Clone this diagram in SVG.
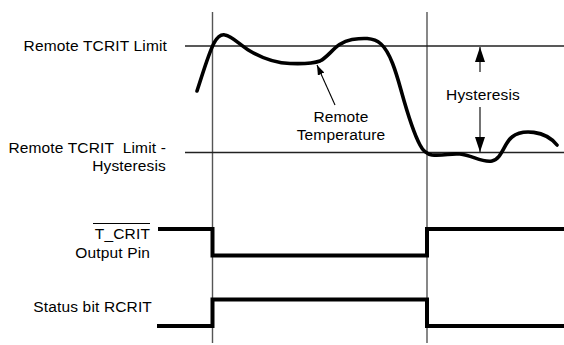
<svg xmlns="http://www.w3.org/2000/svg" width="564" height="345" viewBox="0 0 564 345">
<defs>
<style>
.lbl{font-family:"Liberation Sans",Arial,sans-serif;font-size:15.5px;letter-spacing:0.15px;fill:#000}
.r{text-anchor:end}
.m{text-anchor:middle}
.grid{stroke:#555;stroke-width:1.4;fill:none}
.thr{stroke:#222;stroke-width:1.3;fill:none}
.sig{stroke:#000;stroke-width:4;fill:none;stroke-linejoin:miter}
.thin{stroke:#000;stroke-width:1.1;fill:none}
</style>
<marker id="ah" viewBox="0 0 15 10" refX="15" refY="5" markerWidth="15" markerHeight="10" markerUnits="userSpaceOnUse" orient="auto">
<path d="M0,0 L15,5 L0,10 Z" fill="#000"/>
</marker>
<marker id="ahs" viewBox="0 0 10 7" refX="10" refY="3.5" markerWidth="10" markerHeight="7" markerUnits="userSpaceOnUse" orient="auto">
<path d="M0,0 L10,3.5 L0,7 Z" fill="#000"/>
</marker>
</defs>
<rect width="564" height="345" fill="#fff"/>
<g id="gridlines">
<line class="grid" x1="212.5" y1="12" x2="212.5" y2="343"/>
<line class="grid" x1="427" y1="12" x2="427" y2="343"/>
<line class="thr" x1="185" y1="46" x2="564" y2="46"/>
<line class="thr" x1="185" y1="152.5" x2="564" y2="152.5"/>
</g>
<g id="labels">
<text class="lbl r" x="167" y="51">Remote TCRIT Limit</text>
<text class="lbl r" x="166" y="153" xml:space="preserve">Remote TCRIT  Limit -</text>
<text class="lbl r" x="166" y="171">Hysteresis</text>
<text class="lbl r" x="150" y="239">T_CRIT</text>
<line class="thin" x1="93" y1="223.5" x2="150" y2="223.5"/>
<text class="lbl r" x="150" y="258">Output Pin</text>
<text class="lbl r" x="152" y="312">Status bit RCRIT</text>
</g>
<g id="remote-temperature">
<path d="M197,91 C203,73 208,55 214,43 C218,36 221,34 225,35 C232,36 240,45 250,51 C262,58 275,63 290,63.5 C303,64 312,64 320,61 C330,56 336,42 352,39.5 C362,38 373,37 381,44 C390,52 396,72 401,90 C406,108 412,130 420,145 C423,151 426,154 432,155 C445,156 450,153 460,154 C472,155 482,163 492,161 C502,159 504,143 512,137 C522,129 545,130 557,145" stroke="#000" stroke-width="3.6" fill="none" stroke-linecap="round"/>
<text class="lbl m" x="341" y="122">Remote</text>
<text class="lbl m" x="341" y="140">Temperature</text>
</g>
<g id="connectors">
<line class="thin" x1="335" y1="105" x2="317" y2="65" marker-end="url(#ahs)"/>
<line class="thin" x1="480" y1="72" x2="480" y2="47" marker-end="url(#ah)"/>
<line class="thin" x1="480" y1="107" x2="480" y2="152" marker-end="url(#ah)"/>
</g>
<g id="hysteresis">
<text class="lbl m" x="483" y="100">Hysteresis</text>
</g>
<g id="tcrit-pin">
<polyline class="sig" points="158,229 212.5,229 212.5,255.5 427,255.5 427,229 564,229"/>
</g>
<g id="status-bit">
<polyline class="sig" points="157,326 212.5,326 212.5,299.5 427,299.5 427,326 564,326"/>
</g>
</svg>
